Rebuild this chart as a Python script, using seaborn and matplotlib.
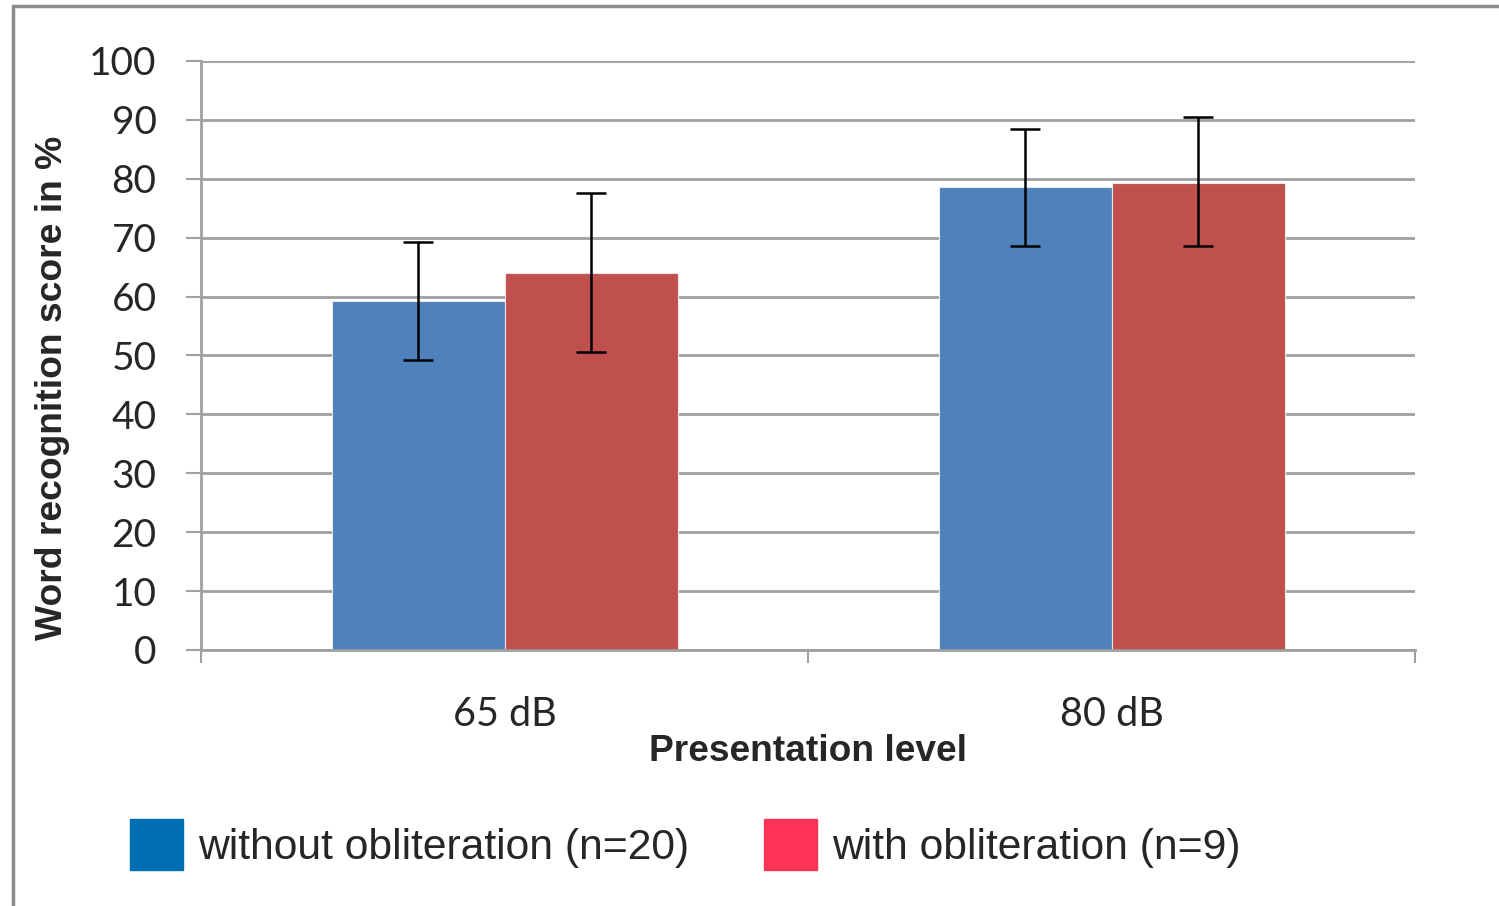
import matplotlib.pyplot as plt
import matplotlib.patches as mpatches
import numpy as np
import pandas as pd
import seaborn as sns

levels = ["65 dB", "80 dB"]
groups = ["without obliteration (n=20)", "with obliteration (n=9)"]
scores_without = [59.2, 78.6]
scores_with = [64.0, 79.3]
err_low_without = [10.0, 10.0]
err_high_without = [10.1, 9.9]
err_low_with = [13.4, 10.7]
err_high_with = [13.6, 11.2]

bar_colors = ["#4F81BD", "#C0504D"]
legend_colors = ["#006EB0", "#FF3355"]

df = pd.DataFrame({
    "level": levels * 2,
    "group": [groups[0]] * 2 + [groups[1]] * 2,
    "score": scores_without + scores_with,
})

sns.set_theme(style="white")
plt.rcParams["font.family"] = ["Lato", "DejaVu Sans"]

fig = plt.figure(figsize=(14.99, 9.06), dpi=100)
ax = fig.add_axes([0.1341, 0.2826, 0.8100, 0.6501])

sns.barplot(data=df, x="level", y="score", hue="group", palette=bar_colors,
            width=0.57, gap=0, saturation=1, ax=ax, legend=False, errorbar=None,
            linewidth=0.8, edgecolor="#E8E8E8")

# error bars on top of the bars
bars = ax.patches
lows = err_low_without + err_low_with
highs = err_high_without + err_high_with
vals = scores_without + scores_with
for bar, v, lo, hi in zip(bars, vals, lows, highs):
    xc = bar.get_x() + bar.get_width() / 2
    ax.errorbar(xc, v, yerr=[[lo], [hi]], color="black", lw=1.8,
                capsize=11, capthick=1.8, zorder=5)

ax.set_xlim(-0.5, 1.5)
ax.set_ylim(0, 100)
ax.set_yticks(np.arange(0, 101, 10))
ax.yaxis.grid(True, color="#A0A0A0", lw=2)
ax.set_axisbelow(True)

for s in ["top", "right"]:
    ax.spines[s].set_visible(False)
for s in ["left", "bottom"]:
    ax.spines[s].set_color("#A0A0A0")
    ax.spines[s].set_linewidth(2)

ax.tick_params(axis="y", which="major", length=11, width=1.5, color="#A0A0A0",
               direction="out", left=True, pad=21, labelsize=28)
ax.tick_params(axis="x", which="major", length=0, pad=33, labelsize=28.5)
ax.set_xticks([-0.5, 0.5, 1.5], minor=True)
ax.tick_params(axis="x", which="minor", length=9, width=1.5, color="#A0A0A0",
               direction="out", bottom=True)

ax.set_xlabel("Presentation level", family="Liberation Sans", weight="bold",
              fontsize=26.7, labelpad=1)
ax.set_ylabel("Word recognition score in %", family="Liberation Sans",
              weight="bold", fontsize=26.8)
ax.yaxis.set_label_coords(-0.108, 0.445)

handles = [mpatches.Patch(color=c) for c in legend_colors]
fig.legend(handles, groups, loc="lower left", bbox_to_anchor=(0.087, 0.04),
           ncol=2, frameon=False, prop={"family": "Liberation Sans", "size": 30.7},
           handlelength=1.24, handleheight=1.45, handletextpad=0.35,
           columnspacing=1.75, borderpad=0, borderaxespad=0)

# outer chart border (left and top edges)
fig.add_artist(mpatches.Rectangle((13 / 1499, -0.1), 1.2, 1.1 - 6 / 906,
                                  transform=fig.transFigure, fill=False,
                                  edgecolor="#8C8C8C", lw=2.5))

fig.savefig("out.png", dpi=100)
